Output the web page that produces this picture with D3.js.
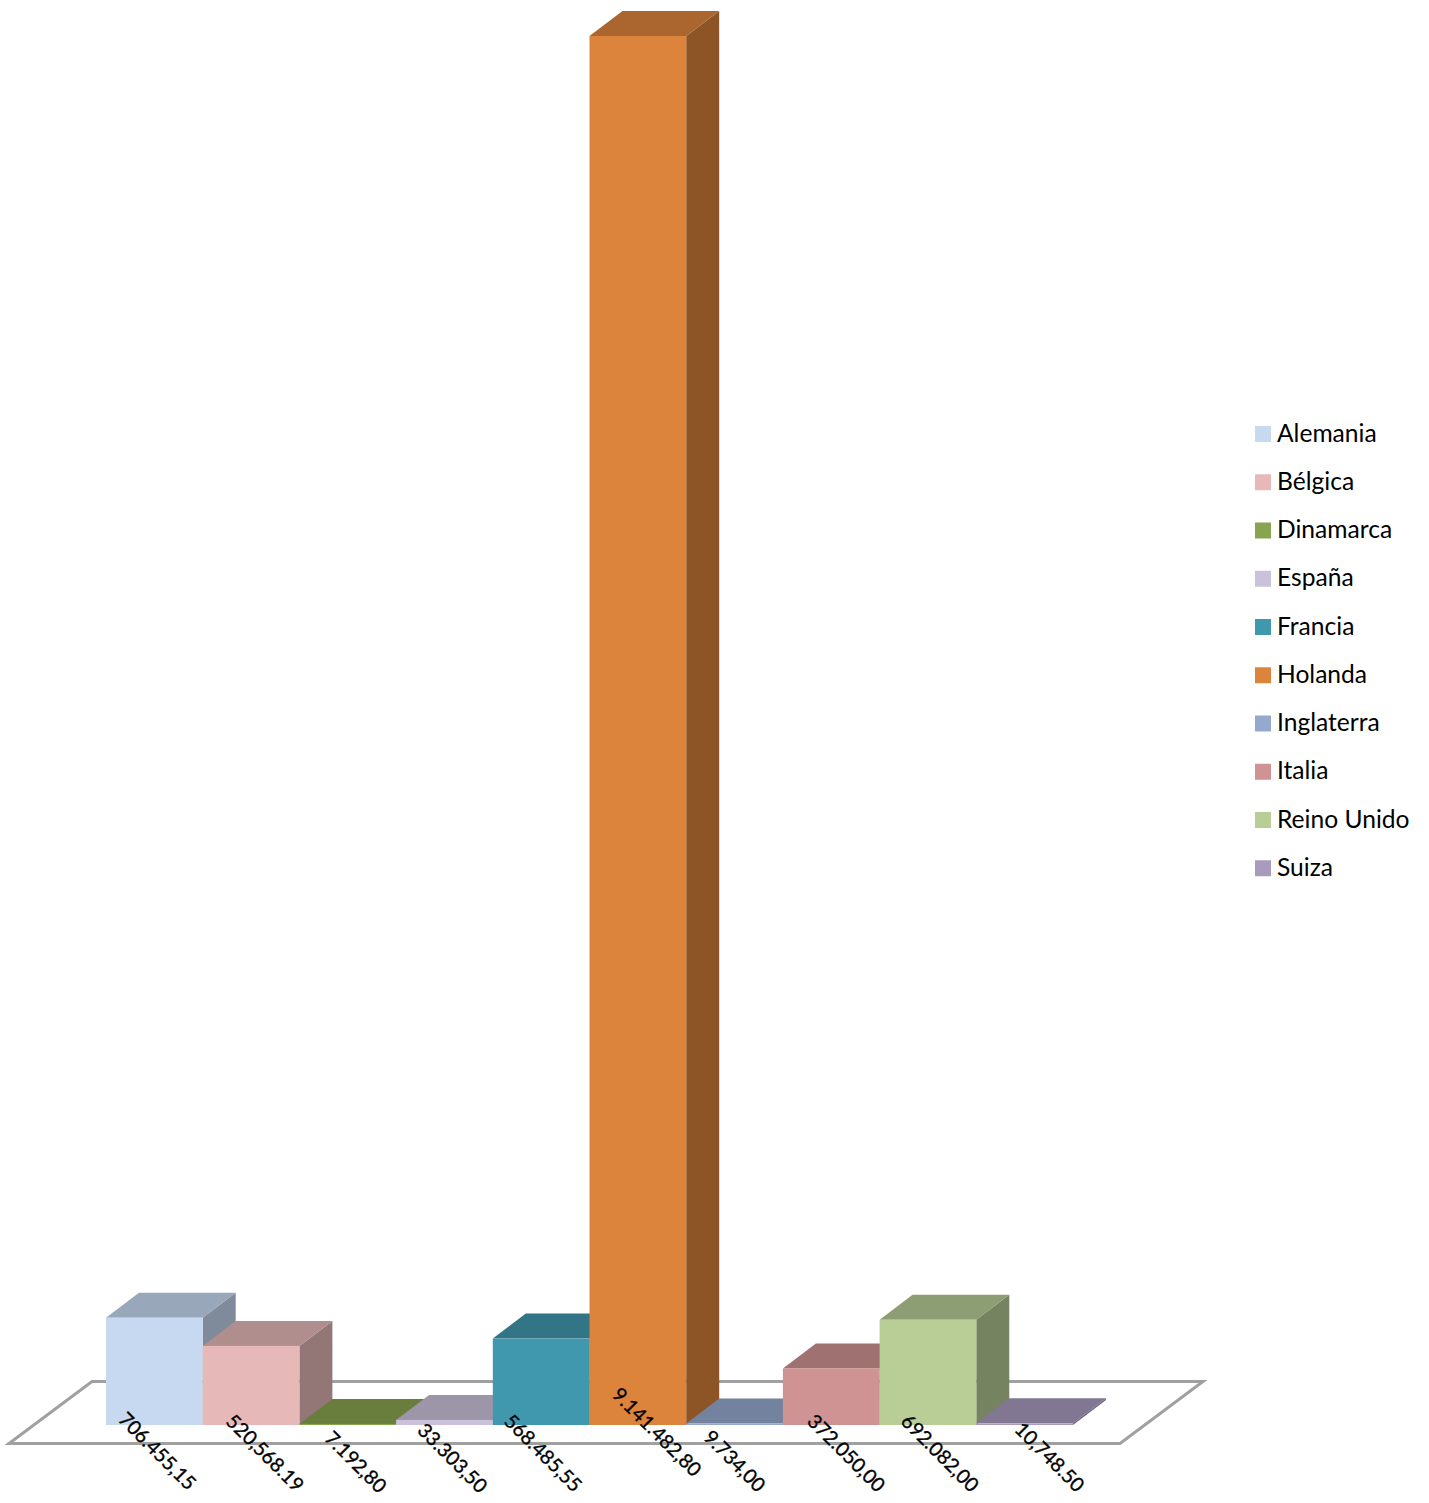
<!DOCTYPE html>
<html>
<head>
<meta charset="utf-8">
<script src="https://cdnjs.cloudflare.com/ajax/libs/d3/7.8.5/d3.min.js"></script>
<style>
  html, body { margin: 0; background: #fff; }
  text { font-family: Lato, "Open Sans", sans-serif; fill: #000; }
</style>
</head>
<body>
<div id="chart"></div>
<script>
var paises = ["Alemania", "Bélgica", "Dinamarca", "España", "Francia", "Holanda", "Inglaterra", "Italia", "Reino Unido", "Suiza"];
var valores = [706455.15, 520568.19, 7192.80, 33303.50, 568485.55, 9141482.80, 9734.00, 372050.00, 692082.00, 10748.50];
// labels are kept as printed, the source mixes number formats
var etiquetas = ["706.455,15", "520,568.19", "7.192,80", "33.303,50", "568.485,55", "9.141.482,80", "9.734,00", "372.050,00", "692.082,00", "10,748.50"];
var colores = ["#C6D9F1", "#E6B9B8", "#88A44F", "#CCC1DA", "#4098AF", "#DD843C", "#95A9CE", "#D09393", "#B9CD96", "#A99BBD"];

var width = 1429, height = 1503;
var depthX = 33, depthY = 25;

// excel placed each label a bit differently, offset from the bar centre
var labelDx = [3, 14, 8, 8, 2, 19, 0, 15, 12, 25];
var labelDy = [26, 28, 37, 33, 28, 7, 36, 28, 28, 32];

var svg = d3.select("#chart").append("svg")
  .attr("width", width)
  .attr("height", height);

var x = d3.scaleBand().domain(paises).range([106, 1073]);
var y = d3.scaleLinear().domain([0, 9141482.80]).range([1425, 36]);
var baseY = y(0);

var color = d3.scaleOrdinal().domain(paises).range(colores);

function shade(c, k) {
  var r = d3.rgb(c);
  return d3.rgb(r.r * k, r.g * k, r.b * k).formatHex();
}

function poly(points) {
  return d3.line()(points) + "Z";
}

// floor
svg.append("path")
  .attr("d", poly([[9, 1443.5], [92, 1381.5], [1203, 1381.5], [1120, 1443.5]]))
  .attr("fill", "none")
  .attr("stroke", "#a0a0a0")
  .attr("stroke-width", 3);

var bars = svg.selectAll(".bar")
  .data(paises)
  .enter().append("g")
  .attr("class", "bar");

// side
bars.append("path")
  .attr("fill", function(d) { return shade(color(d), 0.64); })
  .attr("d", function(d, i) {
    var r = x(d) + x.bandwidth(), t = y(valores[i]);
    return poly([[r, t], [r + depthX, t - depthY], [r + depthX, baseY - depthY], [r, baseY]]);
  });

// top
bars.append("path")
  .attr("fill", function(d) { return shade(color(d), 0.77); })
  .attr("d", function(d, i) {
    var l = x(d), r = l + x.bandwidth(), t = y(valores[i]);
    return poly([[l, t], [l + depthX, t - depthY], [r + depthX, t - depthY], [r, t]]);
  });

// front
bars.append("rect")
  .attr("x", function(d) { return x(d); })
  .attr("y", function(d, i) { return y(valores[i]); })
  .attr("width", x.bandwidth())
  .attr("height", function(d, i) { return baseY - y(valores[i]); })
  .attr("fill", function(d) { return color(d); });

// value labels
svg.selectAll(".label")
  .data(paises)
  .enter().append("text")
  .attr("class", "label")
  .attr("text-anchor", "middle")
  .attr("dy", ".35em")
  .style("font-size", "19.6px")
  .style("stroke", "#000")
  .style("stroke-width", 0.35)
  .attr("transform", function(d, i) {
    var cx = x(d) + x.bandwidth() / 2 + labelDx[i];
    return "translate(" + cx + "," + (baseY + labelDy[i]) + ") rotate(45)";
  })
  .text(function(d, i) { return etiquetas[i]; });

// legend
var legendY = d3.scalePoint().domain(paises).range([433.5, 867.75]);

var legend = svg.selectAll(".legend")
  .data(paises)
  .enter().append("g")
  .attr("class", "legend")
  .attr("transform", function(d) { return "translate(1255," + legendY(d) + ")"; });

legend.append("rect")
  .attr("y", -7.5)
  .attr("width", 16)
  .attr("height", 16)
  .attr("fill", function(d) { return color(d); });

legend.append("text")
  .attr("x", 22)
  .attr("dy", ".33em")
  .style("font-size", "24.6px")
  .text(function(d) { return d; });
</script>
</body>
</html>
